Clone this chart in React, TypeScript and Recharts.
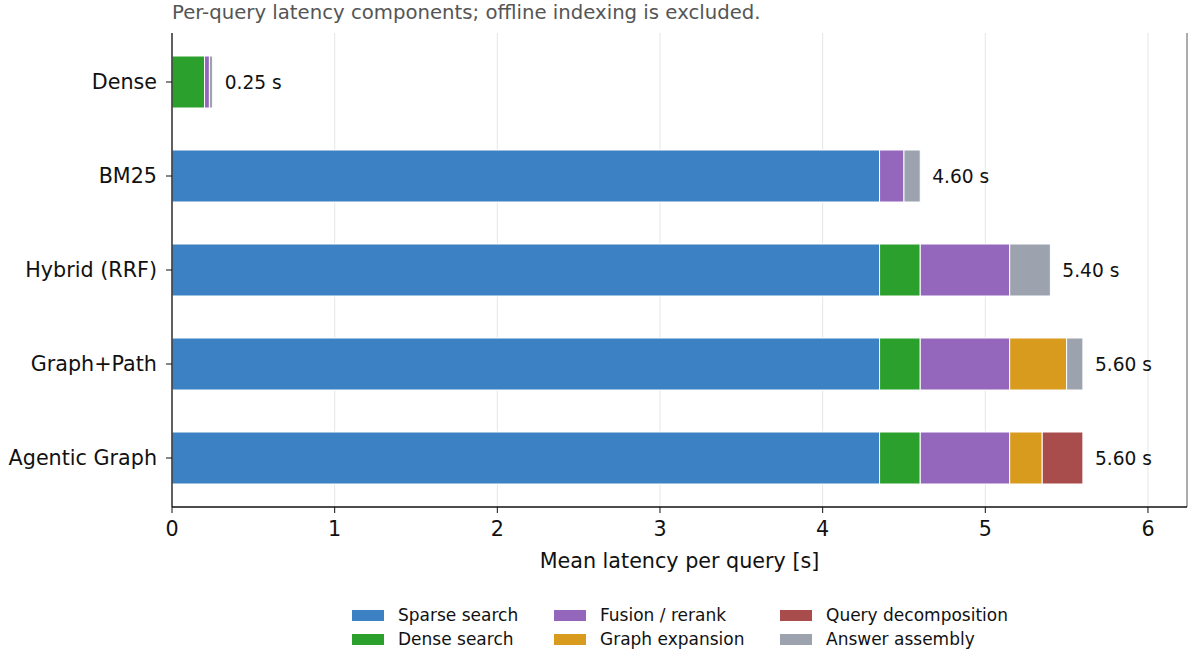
import { Bar, BarChart, CartesianGrid, LabelList, ReferenceLine, XAxis, YAxis } from "recharts";

const methods = ["Dense", "BM25", "Hybrid (RRF)", "Graph+Path", "Agentic Graph"];
const sparseSearch = [0, 4.35, 4.35, 4.35, 4.35];
const denseSearch = [0.2, 0, 0.25, 0.25, 0.25];
const fusionRerank = [0.03, 0.15, 0.55, 0.55, 0.55];
const graphExpansion = [0, 0, 0, 0.35, 0.2];
const queryDecomposition = [0, 0, 0, 0, 0.25];
const answerAssembly = [0.02, 0.1, 0.25, 0.1, 0];
const xTicks = [0, 1, 2, 3, 4, 5, 6];
const xMax = 6.24;

const series = [
  { key: "sparse", name: "Sparse search", color: "#3b81c3", values: sparseSearch },
  { key: "dense", name: "Dense search", color: "#2ca02c", values: denseSearch },
  { key: "fusion", name: "Fusion / rerank", color: "#9467bd", values: fusionRerank },
  { key: "graph", name: "Graph expansion", color: "#d89b1e", values: graphExpansion },
  { key: "query", name: "Query decomposition", color: "#a94c4c", values: queryDecomposition },
  { key: "answer", name: "Answer assembly", color: "#9ca3af", values: answerAssembly },
];

// legend is laid out column-wise like matplotlib's ncol=3
const legendColumns = [
  [series[0], series[1]],
  [series[2], series[3]],
  [series[4], series[5]],
];

const data = methods.map((method, i) => {
  const row: Record<string, string | number> = { method };
  let total = 0;
  let lastKey = "";
  for (const s of series) {
    row[s.key] = s.values[i];
    total += s.values[i];
    if (s.values[i] > 0) lastKey = s.key;
  }
  row.total = total;
  row.lastKey = lastKey; // the total label sits after the last non-zero segment
  return row;
});

const font = "'DejaVu Sans', sans-serif";
const axisFont = { fontSize: 20.7, fill: "#111", fontFamily: font };

function TotalLabel(props: any) {
  const { x, y, width, height, value } = props;
  if (value === null || value === undefined || value === "") return null;
  return (
    <text
      x={Number(x) + Number(width) + 12}
      y={Number(y) + Number(height) / 2}
      dominantBaseline="central"
      fontSize={18.6}
      fill="#111"
      fontFamily={font}
    >
      {`${Number(value).toFixed(2)} s`}
    </text>
  );
}

export default function App() {
  return (
    <div style={{ position: "absolute", left: 0, top: 0, width: 1188, height: 650, background: "#fff", fontFamily: font }}>
      <div style={{ position: "absolute", left: 172, top: 1, fontSize: 19.7, color: "#555" }}>
        Per-query latency components; offline indexing is excluded.
      </div>
      <BarChart
        width={1188}
        height={650}
        data={data}
        layout="vertical"
        margin={{ top: 33, right: 1, left: 0, bottom: 78 }}
        barSize={52}
      >
        <CartesianGrid horizontal={false} stroke="#e6e6e6" strokeWidth={1} />
        <XAxis
          type="number"
          domain={[0, xMax]}
          ticks={xTicks}
          allowDataOverflow
          tickSize={6}
          tickMargin={8}
          height={65}
          tick={axisFont}
          axisLine={{ stroke: "#111", strokeWidth: 1.3 }}
          tickLine={{ stroke: "#111" }}
          label={{ value: "Mean latency per query [s]", position: "insideBottom", offset: 4, ...axisFont }}
        />
        <XAxis
          xAxisId="top"
          orientation="top"
          type="number"
          domain={[0, xMax]}
          allowDataOverflow
          height={0}
          tick={false}
          tickLine={false}
          axisLine={{ stroke: "#111", strokeWidth: 1.3 }}
        />
        <YAxis
          type="category"
          dataKey="method"
          width={172}
          padding={{ top: 2, bottom: 2 }}
          tickSize={6}
          tickMargin={9}
          tick={axisFont}
          axisLine={{ stroke: "#111", strokeWidth: 1.3 }}
          tickLine={{ stroke: "#111" }}
        />
        {series.map((s) => (
          <Bar
            key={s.key}
            dataKey={s.key}
            name={s.name}
            stackId="latency"
            fill={s.color}
            stroke="#fff"
            strokeWidth={1}
            isAnimationActive={false}
          >
            <LabelList
              dataKey={(row: any) => (row.lastKey === s.key ? row.total : null)}
              content={TotalLabel}
            />
          </Bar>
        ))}
        <ReferenceLine x={xMax} stroke="#666" strokeWidth={1} />
      </BarChart>
      <div style={{ position: "absolute", left: 352, top: 603, display: "flex", fontSize: 17, color: "#111" }}>
        {legendColumns.map((col, ci) => (
          <div key={ci} style={{ width: ci === 0 ? 202 : ci === 1 ? 226 : "auto" }}>
            {col.map((s) => (
              <div key={s.key} style={{ display: "flex", alignItems: "center", height: 24, whiteSpace: "nowrap" }}>
                <span style={{ display: "inline-block", width: 32, height: 11, background: s.color, marginRight: 14 }} />
                {s.name}
              </div>
            ))}
          </div>
        ))}
      </div>
    </div>
  );
}
